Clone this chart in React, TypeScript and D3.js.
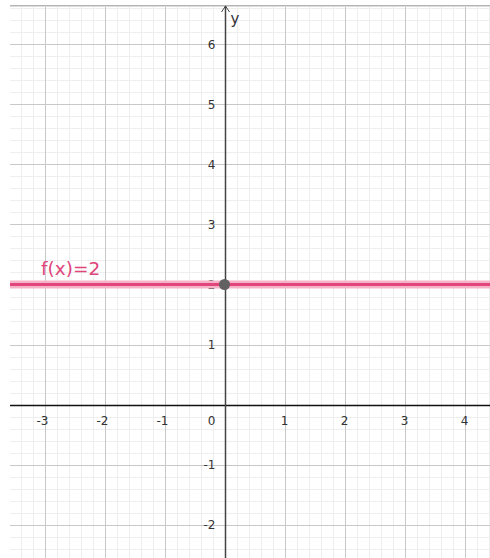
import React, { useEffect, useRef } from "react";
import * as d3 from "d3";

// data
const xTicks = [-3, -2, -1, 1, 2, 3, 4];
const yTicks = [-2, -1, 1, 2, 3, 4, 5, 6];
const constValue = [2]; // f(x) = 2
const points = [{ x: 0, y: 2 }];
const fnLabel = ["f(x)=2"];

const W = 490;
const H = 558;

export default function App() {
  const svgRef = useRef<SVGSVGElement>(null);

  useEffect(() => {
    const svg = d3.select(svgRef.current);
    svg.selectAll("*").remove();

    const left = 10;
    const top = 5;
    // 60px per unit, origin at (224.5, 404.5)
    const x = d3.scaleLinear().domain([-3.575, 4.425]).range([left, W]);
    const y = d3.scaleLinear().domain([6.658, -2.558]).range([top, H]);

    const [x0, x1] = x.domain();
    const [y1, y0] = y.domain();

    svg.append("rect").attr("x", 0).attr("y", 0).attr("width", W).attr("height", H).attr("fill", "#fff");

    const grid = svg.append("g").attr("shape-rendering", "crispEdges");

    // minor grid, 5 per unit
    const minorX = d3.range(Math.ceil(x0 * 5), Math.floor(x1 * 5) + 1).map((d) => d / 5);
    const minorY = d3.range(Math.ceil(y0 * 5), Math.floor(y1 * 5) + 1).map((d) => d / 5);
    grid
      .selectAll(".mx")
      .data(minorX)
      .join("line")
      .attr("x1", (d) => Math.round(x(d)) + 0.5)
      .attr("x2", (d) => Math.round(x(d)) + 0.5)
      .attr("y1", top)
      .attr("y2", H)
      .attr("stroke", "#eeeeee");
    grid
      .selectAll(".my")
      .data(minorY)
      .join("line")
      .attr("y1", (d) => Math.round(y(d)) + 0.5)
      .attr("y2", (d) => Math.round(y(d)) + 0.5)
      .attr("x1", left)
      .attr("x2", W)
      .attr("stroke", "#eeeeee");

    // major grid
    const majorX = d3.range(Math.ceil(x0), Math.floor(x1) + 1);
    const majorY = d3.range(Math.ceil(y0), Math.floor(y1) + 1);
    grid
      .selectAll(".Mx")
      .data(majorX)
      .join("line")
      .attr("x1", (d) => Math.round(x(d)) + 0.5)
      .attr("x2", (d) => Math.round(x(d)) + 0.5)
      .attr("y1", top)
      .attr("y2", H)
      .attr("stroke", "#c8c8c8");
    grid
      .selectAll(".My")
      .data(majorY)
      .join("line")
      .attr("y1", (d) => Math.round(y(d)) + 0.5)
      .attr("y2", (d) => Math.round(y(d)) + 0.5)
      .attr("x1", left)
      .attr("x2", W)
      .attr("stroke", "#c8c8c8");

    // top border shadow
    svg.append("line").attr("x1", left).attr("x2", W).attr("y1", top + 0.5).attr("y2", top + 0.5).attr("stroke", "#b4b4b4");
    svg.append("line").attr("x1", left).attr("x2", W).attr("y1", top + 1.5).attr("y2", top + 1.5).attr("stroke", "#dcdcdc");

    // axes
    const ox = Math.round(x(0)) + 0.5;
    const oy = Math.round(y(0)) + 0.5;
    svg.append("line").attr("x1", left).attr("x2", W).attr("y1", oy).attr("y2", oy).attr("stroke", "#111").attr("stroke-width", 1.5);
    svg.append("line").attr("x1", ox).attr("x2", ox).attr("y1", top + 1).attr("y2", H).attr("stroke", "#444").attr("stroke-width", 1.5);
    // arrow
    svg
      .append("path")
      .attr("d", `M${ox - 4},${top + 7} L${ox},${top + 1} L${ox + 4},${top + 7}`)
      .attr("fill", "none")
      .attr("stroke", "#444")
      .attr("stroke-width", 1);
    svg
      .append("text")
      .attr("x", ox + 5)
      .attr("y", top + 19)
      .attr("font-family", "DejaVu Sans, sans-serif")
      .attr("font-size", 15)
      .attr("fill", "#333")
      .text("y");

    const tickFont = "DejaVu Sans, sans-serif";
    svg
      .append("g")
      .selectAll("text")
      .data(xTicks)
      .join("text")
      .attr("x", (d) => x(d) + (d < 0 ? -2 : 0))
      .attr("y", oy + 19)
      .attr("text-anchor", "middle")
      .attr("font-family", tickFont)
      .attr("font-size", 12)
      .attr("fill", "#333")
      .text((d) => (d < 0 ? "-" + Math.abs(d) : String(d)));
    svg
      .append("text")
      .attr("x", ox - 10)
      .attr("y", oy + 19)
      .attr("text-anchor", "end")
      .attr("font-family", tickFont)
      .attr("font-size", 12)
      .attr("fill", "#333")
      .text("0");
    svg
      .append("g")
      .selectAll("text")
      .data(yTicks)
      .join("text")
      .attr("x", ox - 10)
      .attr("y", (d) => y(d) + 4.5)
      .attr("text-anchor", "end")
      .attr("font-family", tickFont)
      .attr("font-size", 12)
      .attr("fill", "#333")
      .text((d) => (d < 0 ? "-" + Math.abs(d) : String(d)));

    // function line with highlight halo
    const fn = svg.append("g");
    fn.selectAll(".halo")
      .data(constValue)
      .join("line")
      .attr("x1", left)
      .attr("x2", W)
      .attr("y1", (d) => y(d))
      .attr("y2", (d) => y(d))
      .attr("stroke", "#f6b3c8")
      .attr("stroke-width", 8);
    fn.selectAll(".core")
      .data(constValue)
      .join("line")
      .attr("x1", left)
      .attr("x2", W)
      .attr("y1", (d) => y(d))
      .attr("y2", (d) => y(d))
      .attr("stroke", "#e0457b")
      .attr("stroke-width", 3);

    fn.selectAll("text")
      .data(fnLabel)
      .join("text")
      .attr("x", 41)
      .attr("y", y(constValue[0]) - 10)
      .attr("font-family", "DejaVu Sans, sans-serif")
      .attr("font-size", 18.5)
      .attr("fill", "#e0457b")
      .text((d) => d);

    svg
      .append("g")
      .selectAll("circle")
      .data(points)
      .join("circle")
      .attr("cx", (d) => x(d.x))
      .attr("cy", (d) => y(d.y))
      .attr("r", 5.5)
      .attr("fill", "#616161");
  }, []);

  return (
    <svg
      ref={svgRef}
      width={W}
      height={H}
      style={{ position: "absolute", left: 0, top: 0, display: "block" }}
    />
  );
}
